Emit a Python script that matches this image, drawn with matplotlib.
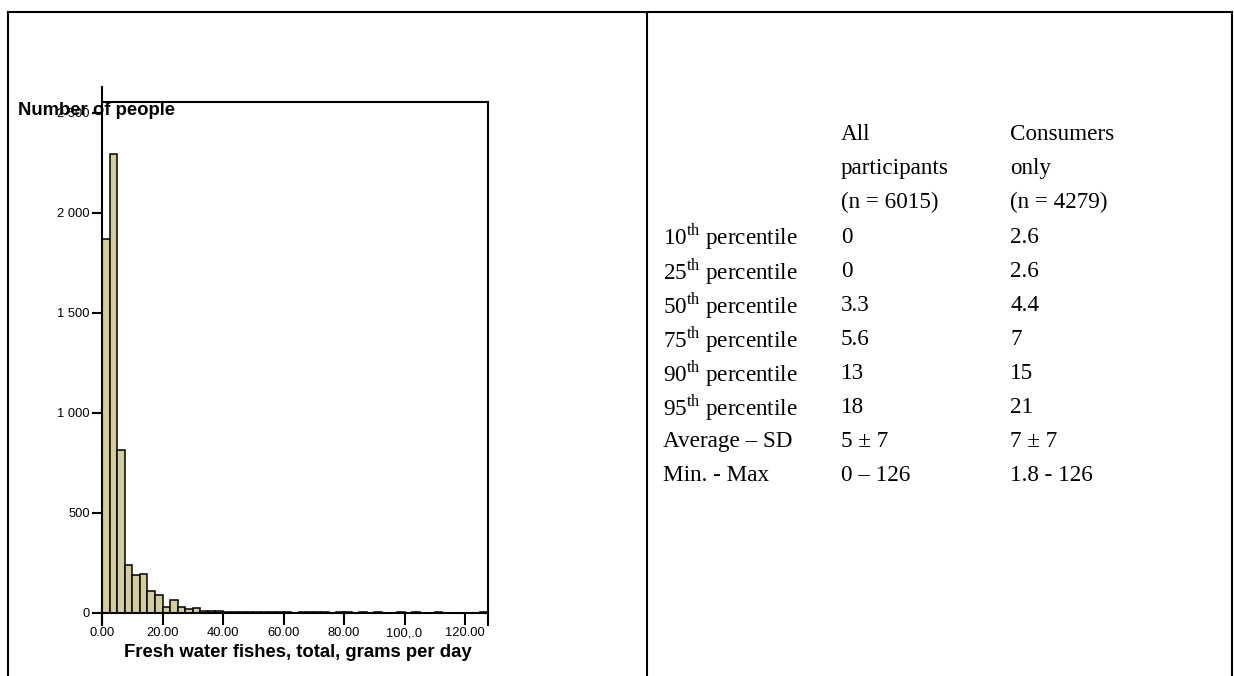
import matplotlib.pyplot as plt
from matplotlib.lines import Line2D
import numpy as np

plt.rcParams['mathtext.fontset'] = 'custom'
plt.rcParams['mathtext.rm'] = 'Liberation Serif'

# Histogram of daily fresh water fish intake, 2.5 g bins from 0 to 127.5
bin_width = 2.5
counts = [1870, 2295, 814, 238, 190, 193, 106, 88, 28, 63,
          30, 18, 22, 10, 10, 7, 5, 3, 3, 2,
          2, 1, 3, 1, 1, 0, 1, 2, 1, 1,
          0, 1, 1, 0, 1, 0, 1, 0, 0, 1,
          0, 1, 0, 0, 1, 0, 0, 0, 0, 0, 1]

x_ticks = [0, 20, 40, 60, 80, 100, 120]
x_tick_labels = ['0.00', '20.00', '40.00', '60.00', '80.00', '100,.0', '120.00']
y_ticks = [0, 500, 1000, 1500, 2000, 2500]
y_tick_labels = ['0', '500', '1 000', '1 500', '2 000', '2 500']

# Summary table
col_headers = [['All', 'participants', '(n = 6015)'],
               ['Consumers', 'only', '(n = 4279)']]
pct_rows = ['10', '25', '50', '75', '90', '95']
other_rows = ['Average \u2013 SD', 'Min. - Max']
all_values = ['0', '0', '3.3', '5.6', '13', '18', '5 \u00b1 7', '0 \u2013 126']
consumer_values = ['2.6', '2.6', '4.4', '7', '15', '21', '7 \u00b1 7', '1.8 - 126']

W, H = 1234, 676
fig = plt.figure(figsize=(W / 100, H / 100), dpi=100)

def fx(px):
    return px / W

def fy(py):
    return 1 - py / H

# outer frame of the two-cell layout
for xs, ys in [([8, 1232], [12, 12]), ([8, 8], [12, 676]),
               ([647, 647], [12, 676]), ([1232, 1232], [12, 676])]:
    fig.add_artist(Line2D([fx(v) for v in xs], [fy(v) for v in ys],
                          color='black', lw=1.5, solid_capstyle='projecting'))

# histogram panel
ax_l, ax_r, ax_t, ax_b = 102, 487.7, 101.5, 612.5
ax = fig.add_axes([fx(ax_l), fy(ax_b), (ax_r - ax_l) / W, (ax_b - ax_t) / H])
edges = np.arange(len(counts)) * bin_width
ax.bar(edges, counts, width=bin_width, align='edge',
       color='#d4cd9a', edgecolor='black', linewidth=1.1)
ax.set_xlim(0, 127.5)
ax.set_ylim(0, (ax_b - ax_t) * 5)

for side in ['top', 'bottom']:
    ax.spines[side].set_linewidth(1.5)
ax.spines['left'].set_visible(False)
ax.spines['right'].set_visible(False)
hgt = ax_b - ax_t
ax.plot([0, 0], [-12 / hgt, 1 + 14.5 / hgt], transform=ax.transAxes,
        color='black', lw=1.5, clip_on=False)
ax.plot([1, 1], [-12 / hgt, 1], transform=ax.transAxes,
        color='black', lw=1.5, clip_on=False)

ax.set_xticks(x_ticks)
ax.set_xticklabels(x_tick_labels, fontsize=9.3, family='Liberation Sans')
ax.set_yticks(y_ticks)
ax.set_yticklabels(y_tick_labels, fontsize=9.3, family='Liberation Sans')
ax.tick_params(axis='x', direction='out', length=8.6, width=1.5, pad=2)
ax.tick_params(axis='y', direction='out', length=7.2, width=1.5, pad=1.5)

fig.text(fx(18), fy(115), 'Number of people', fontsize=13.3, fontweight='bold',
         family='Liberation Sans', ha='left', va='baseline')
fig.text(fx(298), fy(657), 'Fresh water fishes, total, grams per day',
         fontsize=13.3, fontweight='bold', family='Liberation Sans',
         ha='center', va='baseline')

# summary table panel
tfont = dict(fontsize=16.7, family='Liberation Serif', va='center', ha='left')
x_label, x_all, x_cons = 663, 841, 1010
row0, step = 237, 34.1
for i, line in enumerate(col_headers[0]):
    fig.text(fx(x_all), fy(row0 - step * (3 - i)), line, **tfont)
for i, line in enumerate(col_headers[1]):
    fig.text(fx(x_cons), fy(row0 - step * (3 - i)), line, **tfont)

labels = [p + r'$^{\mathrm{th}}$ percentile' for p in pct_rows] + other_rows
for i, (lab, a, c) in enumerate(zip(labels, all_values, consumer_values)):
    y = fy(row0 + step * i)
    fig.text(fx(x_label), y, lab, **tfont)
    fig.text(fx(x_all), y, a, **tfont)
    fig.text(fx(x_cons), y, c, **tfont)

fig.savefig('out.png', dpi=100)
